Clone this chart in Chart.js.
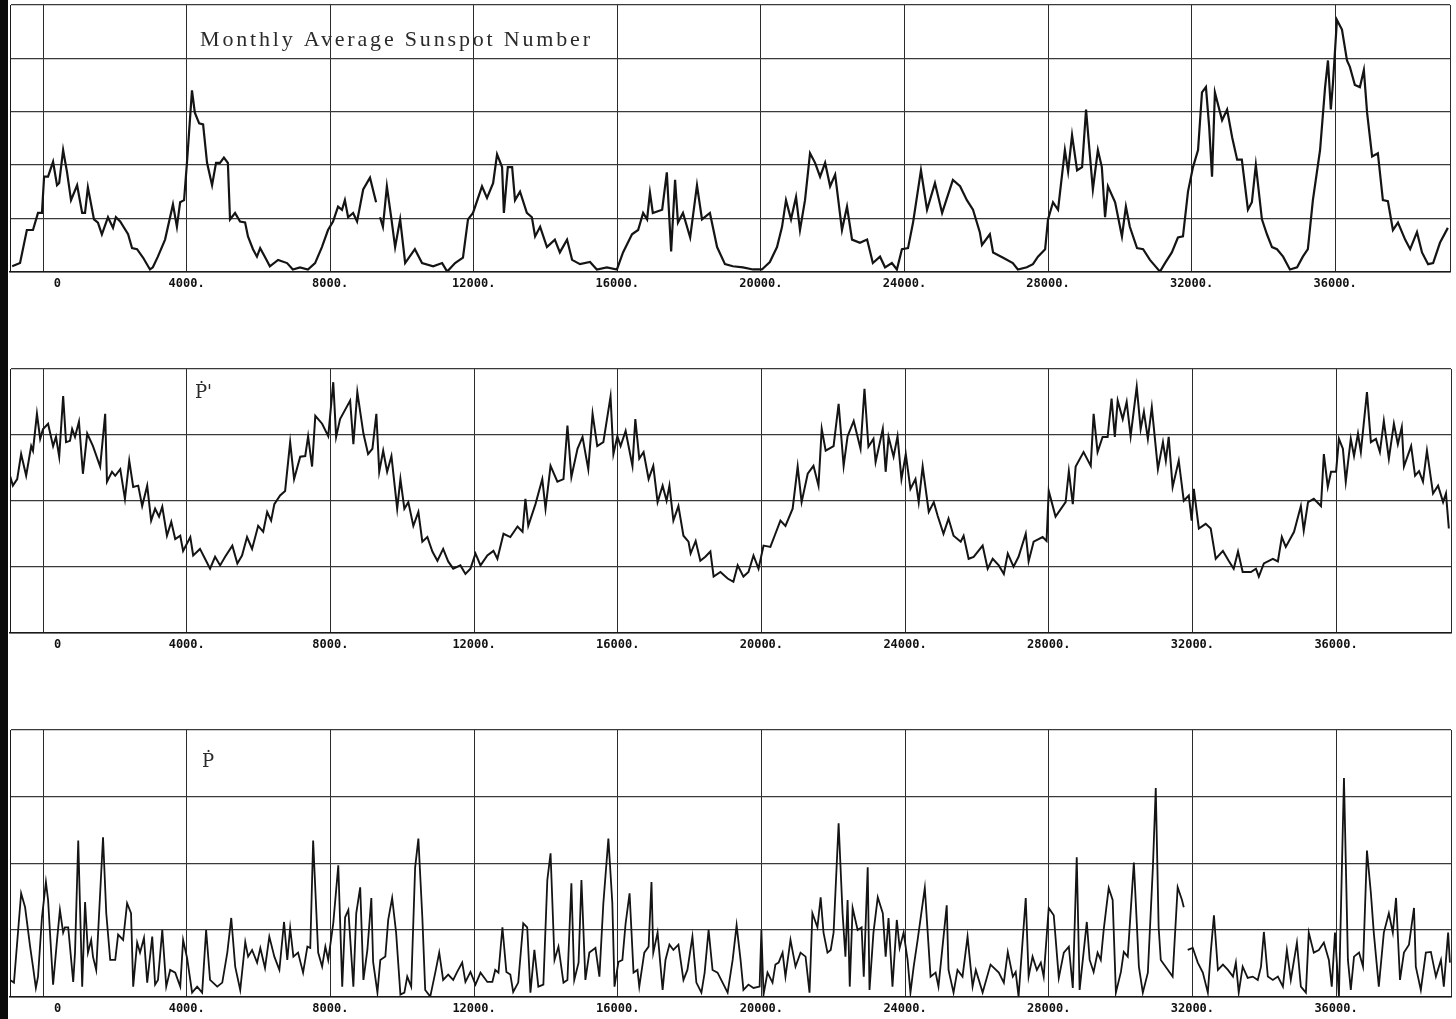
<!DOCTYPE html>
<html>
<head>
<meta charset="utf-8">
<script src="https://cdn.jsdelivr.net/npm/chart.js@4"></script>
<style>
  body { margin: 0; background: #fff; }
  #page { position: relative; width: 1456px; height: 1019px; overflow: hidden; background: #fff; }
  canvas { position: absolute; left: 0; }
  #scanEdge { position: absolute; left: 0; top: 0; width: 8px; height: 1019px; background: #0b0b0b; }
</style>
</head>
<body>
<div id="page">
  <canvas id="sunspotChart" width="1456" height="296" style="top:0px"></canvas>
  <canvas id="pPrimeChart" width="1456" height="297" style="top:360px"></canvas>
  <canvas id="pDotChart" width="1456" height="300" style="top:721px"></canvas>
  <div id="scanEdge"></div>
</div>
<script>
/*---------------------------- shared x axis ------------------------------------*/
var xMin = -920;
var xMax = 39200;
var xTicks = [0, 4000, 8000, 12000, 16000, 20000, 24000, 28000, 32000, 36000];
var xTickLabels = ['    0', '4000.', '8000.', '12000.', '16000.', '20000.', '24000.', '28000.', '32000.', '36000.'];

/*---------------------------- Monthly Average Sunspot Number ------------------------------------*/
var sunspotX = [
  -860,-640,-450,-280,-140,-30,30,140,280,390,
  450,560,670,780,950,1090,1170,1250,1420,1530,
  1640,1810,1950,2030,2150,2370,2480,2620,2790,2980,
  3060,3200,3400,3620,3730,3820,3930,4010,4150,4230,
  4350,4460,4570,4710,4820,4930,5040,5150,5210,5350,
  5490,5630,5710,5850,5960,6050,6180,6320,6550,6800,
  6960,7160,7380,7580,7770,7940,8080,8220,8330,8410,
  8500,8640,8750,8920,9110,9280,9330,9390,9470,9580,
  9700,9810,9950,10090,10360,10560,10870,11120,11260,11480,
  11700,11840,11980,12230,12370,12540,12650,12790,12840,12950,
  13070,13150,13290,13480,13620,13710,13850,14040,14260,14400,
  14600,14740,14960,15240,15430,15710,15990,16160,16410,16580,
  16720,16830,16910,16990,17250,17380,17500,17610,17690,17830,
  18030,18220,18360,18580,18780,19000,19220,19500,19780,20030,
  20250,20450,20590,20700,20840,20980,21090,21230,21370,21510,
  21650,21790,21930,22070,22260,22400,22540,22760,22960,23120,
  23320,23460,23650,23790,23930,24100,24240,24460,24630,24850,
  25050,25350,25550,25740,25910,26100,26160,26380,26470,26750,
  27020,27160,27410,27580,27720,27920,28000,28140,28280,28470,
  28560,28670,28810,28950,29060,29170,29250,29390,29500,29590,
  29670,29870,30060,30170,30280,30480,30650,30840,31120,31260,
  31450,31620,31760,31900,32040,32180,32290,32400,32490,32570,
  32650,32850,32990,33130,33270,33400,33570,33680,33790,33960,
  34100,34240,34380,34550,34740,34940,35100,35240,35380,35580,
  35720,35800,35880,35940,36050,36190,36330,36410,36550,36690,
  36800,36890,37030,37190,37330,37470,37610,37750,37950,38090,
  38280,38420,38590,38730,38920,39140
];
var sunspotY = [
  5,8,39,39,55,55,89,89,103,81,
  83,114,93,67,81,55,55,79,49,46,
  35,51,41,51,47,35,22,21,13,2,
  4,14,30,63,42,65,67,102,170,149,
  139,138,102,81,102,102,107,102,49,55,
  47,46,33,21,14,22,14,5,11,8,
  2,4,2,8,23,39,47,61,58,67,
  51,55,47,77,88,65,null,51,42,80,
  51,23,49,8,21,8,5,8,0,8,
  13,49,55,80,69,83,110,98,55,98,
  98,67,75,55,51,33,42,23,30,18,
  30,11,7,9,2,4,2,18,35,39,
  55,49,74,55,58,93,19,86,46,55,
  32,81,49,55,23,7,5,4,2,2,
  9,23,42,67,49,70,39,67,111,102,
  89,102,80,91,39,61,30,27,30,8,
  14,4,8,2,21,22,46,95,58,83,
  55,86,80,67,58,37,25,35,18,13,
  8,2,4,7,14,21,49,65,58,114,
  94,128,95,98,152,108,77,114,98,51,
  80,65,33,61,42,22,21,11,0,8,
  18,32,33,75,98,114,168,173,136,89,
  168,142,152,126,105,105,58,65,100,49,
  35,23,21,14,2,4,14,21,67,114,
  173,198,152,177,236,227,198,192,175,173,
  189,149,108,111,67,66,39,46,30,21,
  37,18,7,8,27,41
];

/*---------------------------- P' ------------------------------------*/
var pPrimeX = [
  -920,-840,-720,-610,-470,-330,-280,-170,-80,0,
  140,280,360,450,560,640,750,810,890,1000,
  1110,1230,1390,1590,1730,1780,1920,2010,2150,2280,
  2400,2510,2650,2760,2900,3010,3120,3230,3320,3450,
  3570,3680,3820,3900,4100,4180,4370,4510,4650,4790,
  4930,5070,5270,5410,5540,5680,5820,5990,6130,6240,
  6350,6440,6600,6740,6880,6990,7160,7300,7380,7490,
  7580,7770,7940,8080,8160,8270,8550,8640,8750,8920,
  9050,9170,9280,9360,9470,9580,9700,9860,9950,10060,
  10170,10310,10450,10560,10700,10840,10980,11140,11280,11420,
  11620,11760,11900,12040,12180,12370,12540,12650,12820,13010,
  13210,13350,13430,13510,13710,13900,13990,14130,14320,14490,
  14600,14710,14880,15020,15180,15300,15430,15600,15800,15880,
  15990,16080,16220,16410,16490,16600,16720,16860,16990,17110,
  17250,17360,17440,17550,17690,17830,17970,18030,18170,18300,
  18440,18580,18670,18860,19060,19220,19340,19500,19640,19780,
  19920,20060,20250,20390,20530,20670,20870,21010,21120,21290,
  21450,21590,21680,21790,22010,22150,22290,22400,22570,22760,
  22870,22980,23120,23180,23380,23460,23540,23680,23790,23900,
  24020,24150,24290,24380,24490,24660,24800,24910,25070,25210,
  25350,25550,25630,25770,25910,26160,26300,26440,26610,26750,
  26860,27020,27160,27360,27440,27580,27830,27940,28000,28190,
  28470,28560,28670,28750,28970,29170,29250,29360,29500,29640,
  29750,29840,29920,30060,30170,30280,30450,30560,30650,30760,
  30870,31040,31180,31260,31340,31450,31620,31760,31900,31980,
  32040,32180,32370,32510,32650,32850,33010,33150,33270,33400,
  33630,33770,33850,33990,34240,34380,34490,34600,34830,35020,
  35100,35220,35380,35580,35660,35770,35860,36000,36080,36190,
  36270,36410,36500,36610,36690,36860,36970,37110,37220,37330,
  37470,37610,37720,37830,37890,38090,38200,38310,38420,38530,
  38700,38840,38980,39060,39140
];
var pPrimeY = [
  0.38,0.23,0.33,0.71,0.38,0.83,0.76,1.32,0.94,1.09,
  1.17,0.83,0.97,0.67,1.59,0.89,0.91,1.09,0.97,1.20,
  0.41,1.02,0.83,0.52,1.32,0.29,0.44,0.38,0.48,0.03,
  0.61,0.21,0.23,-0.08,0.23,-0.30,-0.12,-0.24,-0.09,-0.53,
  -0.32,-0.58,-0.53,-0.76,-0.55,-0.83,-0.73,-0.88,-1.03,-0.85,
  -0.98,-0.85,-0.68,-0.95,-0.83,-0.55,-0.73,-0.38,-0.47,-0.17,
  -0.30,-0.05,0.08,0.15,0.89,0.33,0.67,0.68,0.98,0.52,
  1.29,1.17,0.98,1.80,0.97,1.24,1.52,0.86,1.65,1.02,
  0.71,0.79,1.32,0.44,0.76,0.44,0.68,-0.12,0.33,-0.12,
  -0.02,-0.38,-0.17,-0.62,-0.55,-0.77,-0.91,-0.73,-0.92,-1.03,
  -0.98,-1.11,-1.03,-0.80,-0.98,-0.83,-0.76,-0.88,-0.50,-0.55,
  -0.39,-0.47,0.03,-0.38,-0.05,0.33,-0.12,0.53,0.29,0.33,
  1.14,0.36,0.79,0.97,0.48,1.32,0.83,0.89,1.58,0.71,
  0.98,0.83,1.06,0.53,1.24,0.64,0.74,0.33,0.53,-0.02,
  0.23,0.00,0.23,-0.30,-0.08,-0.53,-0.62,-0.80,-0.61,-0.91,
  -0.85,-0.77,-1.15,-1.08,-1.18,-1.23,-0.98,-1.15,-1.08,-0.83,
  -1.03,-0.68,-0.70,-0.50,-0.30,-0.38,-0.12,0.52,-0.02,0.41,
  0.53,0.23,1.09,0.76,0.83,1.47,0.53,0.98,1.21,0.79,
  1.70,0.82,0.94,0.59,1.09,0.44,0.97,0.67,0.98,0.33,
  0.71,0.18,0.33,-0.02,0.52,-0.17,-0.02,-0.23,-0.50,-0.27,
  -0.53,-0.62,-0.53,-0.88,-0.85,-0.68,-1.03,-0.88,-0.98,-1.11,
  -0.80,-1.00,-0.85,-0.50,-0.92,-0.62,-0.55,-0.61,0.15,-0.24,
  -0.02,0.45,-0.05,0.52,0.74,0.53,1.32,0.74,0.97,0.97,
  1.55,0.97,1.52,1.24,1.50,0.98,1.73,1.09,1.35,0.94,
  1.42,0.48,0.89,0.61,0.97,0.21,0.61,0.00,0.08,-0.30,
  0.18,-0.42,-0.35,-0.42,-0.88,-0.76,-0.91,-1.03,-0.77,-1.08,
  -1.08,-1.03,-1.15,-0.95,-0.88,-0.92,-0.55,-0.70,-0.47,-0.08,
  -0.45,-0.02,0.03,-0.08,0.71,0.21,0.44,0.44,0.94,0.79,
  0.29,0.94,0.68,1.02,0.74,1.65,0.89,0.94,0.74,1.21,
  0.64,1.17,0.86,1.12,0.52,0.83,0.38,0.45,0.29,0.76,
  0.11,0.23,-0.02,0.11,-0.42
];

/*---------------------------- P (dot) ------------------------------------*/
var pDotX = [
  -920,-810,-610,-500,-360,-280,-200,-140,-30,80,
  140,280,390,470,560,610,700,840,890,980,
  1090,1170,1250,1340,1390,1480,1590,1670,1760,1870,
  2010,2090,2230,2340,2450,2510,2620,2700,2810,2900,
  3040,3120,3200,3320,3430,3540,3680,3820,3900,4010,
  4150,4290,4430,4540,4650,4850,4990,5130,5240,5350,
  5490,5630,5710,5820,5960,6050,6180,6300,6440,6580,
  6710,6800,6880,6970,7100,7240,7360,7440,7520,7660,
  7770,7860,7940,8080,8220,8330,8410,8500,8640,8720,
  8830,8920,9030,9140,9190,9310,9390,9530,9610,9720,
  9830,9950,10060,10140,10250,10360,10450,10560,10640,10780,
  10920,11030,11140,11280,11420,11530,11670,11760,11900,12040,
  12180,12370,12510,12590,12680,12790,12900,13010,13090,13230,
  13370,13480,13570,13680,13790,13930,14040,14130,14240,14350,
  14490,14600,14710,14790,14910,14990,15100,15210,15380,15490,
  15600,15740,15850,15910,16020,16130,16220,16330,16440,16550,
  16600,16740,16860,16940,16990,17110,17250,17330,17440,17550,
  17690,17830,17940,18080,18190,18330,18420,18530,18640,18780,
  18920,19060,19200,19310,19420,19500,19640,19780,19950,20000,
  20060,20170,20310,20390,20480,20590,20670,20810,20950,21090,
  21230,21340,21420,21560,21650,21730,21840,21930,22010,22150,
  22260,22340,22400,22460,22540,22680,22790,22850,22960,23010,
  23120,23240,23380,23460,23540,23650,23770,23850,23960,24070,
  24150,24240,24350,24550,24710,24850,24930,25160,25210,25350,
  25460,25600,25740,25880,25970,26160,26380,26610,26750,26860,
  27000,27080,27160,27360,27440,27550,27670,27780,27860,28000,
  28140,28280,28420,28560,28670,28780,28860,28970,29060,29140,
  29250,29360,29450,29530,29670,29780,29870,30010,30090,30200,
  30370,30510,30620,30760,30900,30980,31060,31120,31320,31450,
  31590,31710,31760,31810,31870,32010,32150,32290,32430,32510,
  32600,32710,32850,32990,33130,33210,33290,33400,33540,33680,
  33820,33910,33990,34100,34240,34380,34520,34630,34740,34910,
  35020,35160,35240,35380,35520,35660,35800,35880,35970,36080,
  36220,36330,36410,36500,36640,36750,36860,36970,37050,37190,
  37330,37470,37580,37670,37780,37890,38030,38170,38220,38360,
  38500,38640,38780,38920,39000,39120,39170
];
var pDotY = [
  0.25,0.21,1.55,1.34,0.75,0.45,0.13,0.30,1.19,1.72,
  1.45,0.18,0.85,1.30,0.96,1.04,1.04,0.22,0.66,2.34,
  0.15,1.42,0.66,0.85,0.60,0.40,1.55,2.39,1.25,0.55,
  0.55,0.93,0.85,1.40,1.25,0.15,0.81,0.66,0.88,0.21,
  0.90,0.18,0.25,1.00,0.15,0.40,0.36,0.15,0.85,0.58,
  0.06,0.15,0.06,1.00,0.25,0.15,0.21,0.66,1.18,0.45,
  0.10,0.82,0.60,0.70,0.51,0.73,0.43,0.90,0.60,0.40,
  1.12,0.55,1.03,0.60,0.66,0.36,0.75,0.73,2.34,0.66,
  0.45,0.75,0.55,1.10,1.97,0.15,1.19,1.30,0.15,1.25,
  1.64,0.25,0.70,1.48,0.52,0.06,0.55,0.60,1.15,1.48,
  0.96,0.03,0.06,0.30,0.15,1.94,2.37,1.19,0.10,0.00,
  0.36,0.66,0.25,0.33,0.25,0.37,0.51,0.22,0.37,0.18,
  0.36,0.22,0.22,0.40,0.36,1.04,0.37,0.33,0.07,0.21,
  1.10,1.04,0.06,0.70,0.15,0.18,1.75,2.15,0.55,0.75,
  0.21,0.25,1.70,0.25,0.51,1.75,0.25,0.66,0.73,0.30,
  1.40,2.37,1.40,0.15,0.52,0.55,1.10,1.55,0.36,0.40,
  0.15,0.66,0.75,1.72,0.66,0.96,0.10,0.55,0.78,0.70,
  0.78,0.25,0.40,0.90,0.21,0.06,0.36,1.00,0.40,0.36,
  0.21,0.06,0.55,1.07,0.55,0.10,0.18,0.13,0.15,1.00,
  0.03,0.36,0.21,0.48,0.51,0.66,0.30,0.85,0.45,0.66,
  0.60,0.06,1.25,1.04,1.49,0.96,0.66,0.70,0.96,2.60,
  1.25,0.60,1.45,0.15,1.33,1.00,1.04,0.30,1.94,0.10,
  0.96,1.49,1.25,0.60,1.18,0.15,1.15,0.73,0.96,0.55,
  0.06,0.45,0.85,1.63,0.30,0.36,0.15,1.37,0.40,0.06,
  0.40,0.30,0.90,0.15,0.40,0.06,0.48,0.36,0.21,0.67,
  0.30,0.37,0.00,1.48,0.30,0.60,0.40,0.51,0.30,1.33,
  1.22,0.28,0.66,0.75,0.13,2.09,0.10,0.66,1.12,0.55,
  0.37,0.66,0.55,1.00,1.63,1.45,0.06,0.37,0.67,0.60,
  2.01,0.45,0.06,0.36,1.94,3.13,1.04,0.55,0.40,0.30,
  1.64,1.45,1.34,null,0.70,0.73,0.51,0.36,0.06,0.66,
  1.22,0.40,0.48,0.40,0.30,0.51,0.06,0.45,0.28,0.30,
  0.25,0.45,0.97,0.30,0.25,0.30,0.15,0.70,0.25,0.81,
  0.15,0.06,0.96,0.66,0.70,0.81,0.55,0.15,0.96,0.00,
  3.28,0.55,0.10,0.60,0.66,0.45,2.19,1.55,0.96,0.15,
  0.96,1.25,0.96,1.48,0.25,0.66,0.78,1.33,0.45,0.10,
  0.66,0.67,0.30,0.55,0.15,0.96,0.51
];

/*---------------------------- panel text ------------------------------------*/
var panelLabel = {
  id: 'panelLabel',
  afterDraw: function (chart, args, opts) {
    var ctx = chart.ctx;
    ctx.save();
    ctx.font = opts.fontStr;
    ctx.fillStyle = '#2a2a2a';
    ctx.textBaseline = 'alphabetic';
    if (opts.fitWidth) {
      var w = ctx.measureText(opts.text).width;
      ctx.letterSpacing = ((opts.fitWidth - w) / (opts.text.length - 1)) + 'px';
    }
    ctx.fillText(opts.text, opts.x, opts.y);
    ctx.restore();
  }
};

function makePanel(id, xs, ys, yMin, yMax, yStep, padTop, padRight, lineW, label) {
  var points = xs.map(function (x, i) { return { x: x, y: ys[i] }; });
  return new Chart(id, {
    type: 'line',
    data: {
      datasets: [{
        data: points,
        borderColor: '#141414',
        borderWidth: lineW,
        pointRadius: 0,
        tension: 0,
        spanGaps: false,
        fill: false
      }]
    },
    options: {
      responsive: false,
      animation: false,
      devicePixelRatio: 1,
      layout: { padding: { left: 10, right: padRight, top: padTop, bottom: 0 } },
      plugins: {
        legend: { display: false },
        tooltip: { enabled: false },
        panelLabel: label
      },
      scales: {
        x: {
          type: 'linear',
          min: xMin,
          max: xMax,
          afterBuildTicks: function (scale) {
            scale.ticks = xTicks.concat([xMax]).map(function (v) { return { value: v }; });
          },
          ticks: {
            autoSkip: false,
            maxRotation: 0,
            padding: 5,
            color: '#111',
            font: { family: '"DejaVu Sans Mono"', size: 12, weight: 'bold' },
            callback: function (v) {
              var i = xTicks.indexOf(v);
              return i < 0 ? '' : xTickLabels[i];
            }
          },
          grid: { color: '#2b2b2b', lineWidth: 1, drawTicks: false },
          border: { color: '#1a1a1a', width: 1.5 }
        },
        y: {
          min: yMin,
          max: yMax,
          ticks: { display: false, stepSize: yStep },
          grid: { color: '#3a3a3a', lineWidth: 1.2, drawTicks: false },
          border: { color: '#1a1a1a', width: 1 }
        }
      }
    },
    plugins: [panelLabel]
  });
}

makePanel('sunspotChart', sunspotX, sunspotY, 0, 250, 50, 5, 6, 2.2,
  { text: 'Monthly Average Sunspot Number', x: 200, y: 46, fontStr: '22px "Liberation Serif"', fitWidth: 390 });

makePanel('pPrimeChart', pPrimeX, pPrimeY, -2, 2, 1, 9, 5, 2,
  { text: 'Ṗ\'', x: 195, y: 38, fontStr: '18px "DejaVu Serif"' });

makePanel('pDotChart', pDotX, pDotY, 0, 4, 1, 9, 5, 1.8,
  { text: 'Ṗ', x: 202, y: 46, fontStr: '18px "DejaVu Serif"' });
</script>
</body>
</html>
